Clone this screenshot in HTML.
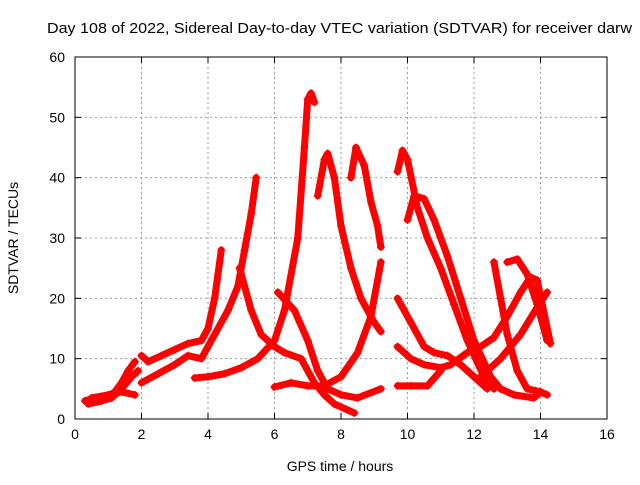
<!DOCTYPE html>
<html><head><meta charset="utf-8"><style>
body{margin:0;background:#fff;}
svg text{font-family:"Liberation Sans",sans-serif;font-size:14px;fill:#000;}
</style></head><body>
<svg id="chart" width="640" height="480">
<text x="47" y="33" textLength="585" lengthAdjust="spacingAndGlyphs" style="font-size:15px">Day 108 of 2022, Sidereal Day-to-day VTEC variation (SDTVAR) for receiver darw</text>
<g id="grid"></g>
<g id="axes"></g>
<g id="series"></g>
<text x="340" y="471" text-anchor="middle">GPS time / hours</text>
<text transform="translate(18,238) rotate(-90)" text-anchor="middle">SDTVAR / TECUs</text>
</svg>
<script>
const xTicks=[0,2,4,6,8,10,12,14,16];
const yTicks=[0,10,20,30,40,50,60];
const trackA_t=[0.3,0.6,0.9,1.2,1.4,1.6,1.8];
const trackA_v=[3,3.5,3.5,4.5,6,8,9.5];
const trackA2_t=[0.4,0.8,1.1,1.4,1.7,1.9];
const trackA2_v=[2.5,3,3.5,5,7,8];
const trackA3_t=[0.5,1.0,1.4,1.8];
const trackA3_v=[3.5,4,4.5,4];
const trackB_t=[2.0,2.2,2.6,3.0,3.4,3.8,4.0,4.2,4.4];
const trackB_v=[10.5,9.5,10.5,11.5,12.5,13,15,20,28];
const trackC_t=[2.0,2.5,3.0,3.4,3.8,4.2,4.6,4.9,5.1,5.3,5.45];
const trackC_v=[6,7.5,9,10.5,10,14,18,22,28,34,40];
const trackD_t=[4.95,5.3,5.6,6.0,6.3,6.8,7.2,7.5,7.8,8.4];
const trackD_v=[25,18,14,12,11,10,6,4,2.5,1];
const trackE_t=[3.6,4.0,4.5,5.0,5.5,6.0,6.3,6.7,6.9,7.0,7.1,7.2];
const trackE_v=[6.8,7,7.5,8.5,10,13,18,30,45,53,54,52.5];
const trackF_t=[6.1,6.6,7.0,7.3,7.6,8.0,8.5,9.2];
const trackF_v=[21,18,13,8,5,4,3.5,5];
const trackG_t=[6.0,6.5,7.0,7.5,8.0,8.5,8.9,9.2];
const trackG_v=[5.3,6,5.5,5.5,7,11,17,26];
const trackH_t=[7.3,7.5,7.6,7.8,8.0,8.3,8.6,9.0,9.2];
const trackH_v=[37,43,44,40,32,25,20,16,14.5];
const trackI_t=[8.3,8.45,8.7,8.9,9.1,9.2];
const trackI_v=[40,45,42,36,32,28.5];
const trackJ_t=[9.7,9.85,10.0,10.3,10.6,11.0,11.4,11.8,12.3,12.6];
const trackJ_v=[41,44.5,43,35,30,25,19,13,7,5];
const trackK_t=[10.0,10.2,10.5,10.8,11.2,11.6,12.0,12.5,12.8,13.2,13.8,14.0];
const trackK_v=[33,37,36.5,33,27,20,13,7,5,4,3.5,4.5];
const trackL_t=[9.7,10.1,10.5,10.8,11.2,11.6,12.0,12.4];
const trackL_v=[20,16,12,11,10.5,9,7,5];
const trackM_t=[9.7,10.1,10.5,11.0,11.3,11.8,12.2,12.6,13.0,13.4,13.7,13.9,14.3];
const trackM_v=[12,10,9,8.5,9,11,12,13.5,17,21,23.5,23,12.5];
const trackN_t=[9.7,10.1,10.6,11.0];
const trackN_v=[5.5,5.5,5.5,8];
const trackO_t=[12.2,12.8,13.4,13.9,14.2];
const trackO_v=[7,10,14,18.5,21];
const trackP_t=[12.6,12.8,13.0,13.3,13.6,14.0,14.2];
const trackP_v=[26,20,14,8,5,4.5,4];
const trackQ_t=[13.0,13.3,13.6,13.9,14.2];
const trackQ_v=[26,26.5,24,19,13];
const tracks=[[trackA_t,trackA_v],[trackA2_t,trackA2_v],[trackA3_t,trackA3_v],[trackB_t,trackB_v],[trackC_t,trackC_v],[trackD_t,trackD_v],[trackE_t,trackE_v],[trackF_t,trackF_v],[trackG_t,trackG_v],[trackH_t,trackH_v],[trackI_t,trackI_v],[trackJ_t,trackJ_v],[trackK_t,trackK_v],[trackL_t,trackL_v],[trackM_t,trackM_v],[trackN_t,trackN_v],[trackO_t,trackO_v],[trackP_t,trackP_v],[trackQ_t,trackQ_v]];

const L=75,R=607,T=57,B=419;
function sx(t){return L+(t-0)/(16-0)*(R-L);}
function sy(v){return B-(v-0)/(60-0)*(B-T);}
const NS='http://www.w3.org/2000/svg';
function mk(tag,attrs,parent){const e=document.createElementNS(NS,tag);for(const k in attrs)e.setAttribute(k,attrs[k]);parent.appendChild(e);return e;}
const grid=document.getElementById('grid'),axes=document.getElementById('axes'),ser=document.getElementById('series');
xTicks.forEach(t=>{
  const x=sx(t);
  if(t>0&&t<16){const g=mk('line',{x1:x,y1:T,x2:x,y2:B,stroke:'#999','stroke-dasharray':'2,3'},grid);
  
  }
  mk('line',{x1:x,y1:B,x2:x,y2:B-6,stroke:'#000'},axes);
  mk('line',{x1:x,y1:T,x2:x,y2:T+6,stroke:'#000'},axes);
  const tx=mk('text',{x:x,y:B+20,'text-anchor':'middle'},axes);tx.textContent=t;
  
  
});
yTicks.forEach(v=>{
  const y=sy(v);
  if(v>0&&v<60){const g=mk('line',{x1:L,y1:y,x2:R,y2:y,stroke:'#999','stroke-dasharray':'2,3'},grid);
  
  }
  mk('line',{x1:L,y1:y,x2:L+6,y2:y,stroke:'#000'},axes);
  mk('line',{x1:R,y1:y,x2:R-6,y2:y,stroke:'#000'},axes);
  const tx=mk('text',{x:L-10,y:y+5,'text-anchor':'end'},axes);tx.textContent=v;
  
  
});
const fr=mk('rect',{x:L,y:T,width:R-L,height:B-T,fill:'none',stroke:'#000'},axes);


tracks.forEach((tr,i)=>{
  const ts=tr[0],vs=tr[1];
  const pts=ts.map((t,j)=>sx(t)+','+sy(vs[j])).join(' ');
  const pl=mk('polyline',{points:pts,fill:'none',stroke:'#f00','stroke-width':7,'stroke-linejoin':'round','stroke-linecap':'round'},ser);
  
  
  ts.forEach((t,j)=>{
    const x=sx(t),y=sy(vs[j]);
    const p=mk('path',{d:`M${x-4},${y}H${x+4}M${x},${y-4}V${y+4}`,stroke:'#f00','stroke-width':1.2},ser);
    
    
  });
});
</script>
</body></html>
